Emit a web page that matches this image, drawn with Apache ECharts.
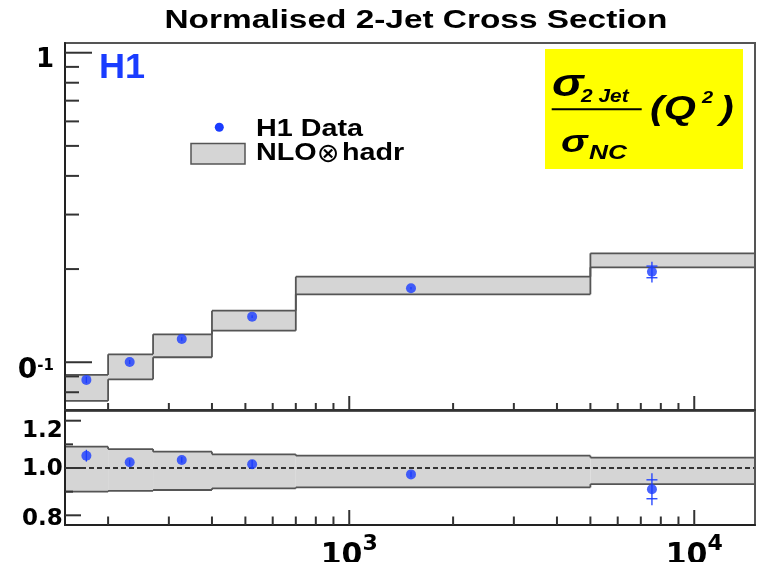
<!DOCTYPE html>
<html><head><meta charset="utf-8">
<script src="https://cdn.jsdelivr.net/npm/echarts@6/dist/echarts.min.js"></script>
<style>html,body{margin:0;padding:0;background:#fff}#c{width:761px;height:562px}</style>
</head><body><div id="c"></div>
<script>
// ---- data ----
const binEdges = [150, 200, 270, 400, 700, 5000, 15000];
const nloHigh = [0.0910, 0.1061, 0.1231, 0.1468, 0.1890, 0.2249];
const nloLow = [0.0750, 0.0881, 0.1038, 0.1265, 0.1658, 0.2026];
const ratioBandHigh = [1.090, 1.080, 1.069, 1.058, 1.052, 1.044];
const ratioBandLow = [0.900, 0.903, 0.907, 0.914, 0.918, 0.932];
const q2Points = [173, 231, 327, 523, 1510, 7540];
const xsecData = [0.0877, 0.1002, 0.1189, 0.1404, 0.1734, 0.1960];
const xsecStat = [0.0010, 0.0010, 0.0010, 0.0010, 0.0010, 0.0085];
const xsecTotal = [0.0020, 0.0015, 0.0015, 0.0015, 0.0015, 0.0150];
const ratioData = [1.052, 1.024, 1.034, 1.016, 0.973, 0.910];
const ratioStat = [0.010, 0.006, 0.006, 0.006, 0.006, 0.040];
const ratioTotal = [0.025, 0.012, 0.012, 0.018, 0.012, 0.068];
const ratioRef = 1.0;
// tick values
const xMajorTicks = [1000, 10000];
const xMinorTicks = [200, 300, 400, 500, 600, 700, 800, 900, 2000, 3000, 4000, 5000, 6000, 7000, 8000, 9000];
const yMajorTicks = [0.1, 1];
const yMinorTicks = [0.08, 0.09, 0.2, 0.3, 0.4, 0.5, 0.6, 0.7, 0.8, 0.9];
const ratioMajorTicks = [0.8, 1.0, 1.2];
const ratioMinorTicks = [0.9, 1.1];
// axis ranges
const xMin = 150, xMax = 15000;
const yMin = 0.0701, yMax = 1.075;
const rMin = 0.759, rMax = 1.241;

const BLUE = '#1a3cff';
const chart = echarts.init(document.getElementById('c'), null, {renderer: 'canvas'});

function bandItems(lo, hi) {
  return lo.map((l, i) => [binEdges[i], binEdges[i + 1], l, hi[i], i > 0 ? lo[i - 1] : l, i > 0 ? hi[i - 1] : hi[i]]);
}
function renderBand(params, api) {
  const x0 = api.value(0), x1 = api.value(1), lo = api.value(2), hi = api.value(3), plo = api.value(4), phi = api.value(5);
  const tl = api.coord([x0, hi]), br = api.coord([x1, lo]);
  const pTop = api.coord([x0, phi]), pBot = api.coord([x0, plo]);
  const ls = {stroke: '#555', lineWidth: 1.8};
  return {type: 'group', children: [
    {type: 'rect', shape: {x: tl[0], y: tl[1], width: br[0] - tl[0], height: br[1] - tl[1]}, style: {fill: '#d5d5d5'}},
    {type: 'line', shape: {x1: tl[0], y1: tl[1], x2: br[0], y2: tl[1]}, style: ls},
    {type: 'line', shape: {x1: tl[0], y1: br[1], x2: br[0], y2: br[1]}, style: ls},
    {type: 'line', shape: {x1: tl[0], y1: pTop[1], x2: tl[0], y2: tl[1]}, style: ls},
    {type: 'line', shape: {x1: tl[0], y1: pBot[1], x2: tl[0], y2: br[1]}, style: ls}
  ]};
}
function errItems(xs, ys, st, tot) { return xs.map((x, i) => [x, ys[i], st[i], tot[i]]); }
function renderErr(params, api) {
  const x = api.value(0), y = api.value(1), s = api.value(2), t = api.value(3);
  const c = api.coord([x, y]);
  const a = api.coord([x, y + t]), b = api.coord([x, y - t]);
  const s1 = api.coord([x, y + s]), s2 = api.coord([x, y - s]);
  const st = {stroke: BLUE, lineWidth: 1.3};
  const kids = [{type: 'line', shape: {x1: a[0], y1: a[1], x2: b[0], y2: b[1]}, style: st}];
  // stat ticks only where they stick out of the marker
  if (Math.abs(s1[1] - c[1]) > 5.5) {
    kids.push({type: 'line', shape: {x1: s1[0] - 5.5, y1: s1[1], x2: s1[0] + 5.5, y2: s1[1]}, style: st});
    kids.push({type: 'line', shape: {x1: s2[0] - 5.5, y1: s2[1], x2: s2[0] + 5.5, y2: s2[1]}, style: st});
  }
  return {type: 'group', children: kids};
}
function tickItems(xMinorLen, xMajorLen, yMinorLen, yMajorLen, yMinVal, yMinorVals, yMajorVals) {
  const out = [];
  xMinorTicks.forEach(v => out.push([v, yMinVal, 0, -xMinorLen]));
  xMajorTicks.forEach(v => out.push([v, yMinVal, 0, -xMajorLen]));
  yMinorVals.forEach(v => out.push([xMin, v, yMinorLen, 0]));
  yMajorVals.forEach(v => out.push([xMin, v, yMajorLen, 0]));
  return out;
}
function renderTick(params, api) {
  const p = api.coord([api.value(0), api.value(1)]);
  const dx = api.value(2), dy = api.value(3);
  return {type: 'line', shape: {x1: p[0], y1: p[1], x2: p[0] + dx, y2: p[1] + dy}, style: {stroke: '#333', lineWidth: 2}};
}
const near = (a, b) => Math.abs(a - b) < 1e-6 * Math.max(1, Math.abs(b));
const labelFont = {fontFamily: '"DejaVu Sans", sans-serif', fontWeight: 'bold', color: '#000'};

function gText(text, x, y, size, opt) {
  opt = opt || {};
  const family = opt.family || '"Liberation Sans", Arial, sans-serif';
  const weight = opt.normal ? 'normal ' : 'bold ';
  return {type: 'text', x: x, y: y, scaleX: opt.sx == null ? 1.25 : opt.sx, z: 100,
    style: {text: text, fill: opt.color || '#000', textAlign: 'left', textVerticalAlign: 'middle',
      font: (opt.italic ? 'italic ' : '') + weight + size + 'px ' + family}};
}

const option = {
  animation: false,
  backgroundColor: '#fff',
  grid: [
    {left: 65, top: 43, width: 690, height: 367, show: true, borderColor: '#555', borderWidth: 2, z: 10, containLabel: false, outerBoundsMode: 'none'},
    {left: 65, top: 411, width: 690, height: 114, show: true, borderColor: '#555', borderWidth: 2, z: 10, containLabel: false, outerBoundsMode: 'none'}
  ],
  xAxis: [
    {type: 'log', gridIndex: 0, min: xMin, max: xMax, z: 10,
      axisLine: {show: true, lineStyle: {color: '#333', width: 2}}, axisTick: {show: false}, splitLine: {show: false}, axisLabel: {show: false}},
    {type: 'log', gridIndex: 1, min: xMin, max: xMax, z: 10,
      axisLine: {show: true, lineStyle: {color: '#222', width: 2}}, axisTick: {show: false}, splitLine: {show: false},
      axisLabel: {margin: 16,
        formatter: v => { const e = Math.log10(v); if (Math.abs(e - Math.round(e)) < 1e-6 && v > 500 && v < 20000) return '{b|10}{s|' + Math.round(e) + '}'; return ''; },
        rich: {b: Object.assign({fontSize: 30, lineHeight: 30, verticalAlign: 'bottom'}, labelFont),
               s: Object.assign({fontSize: 22, lineHeight: 22, verticalAlign: 'bottom', padding: [0, 0, 16, 0]}, labelFont)}}}
  ],
  yAxis: [
    {type: 'log', gridIndex: 0, min: yMin, max: yMax, z: 10,
      axisLine: {show: true, lineStyle: {color: '#222', width: 2}}, axisTick: {show: false}, splitLine: {show: false},
      axisLabel: {margin: 11,
        formatter: v => near(v, 1) ? '{b|1}' : (near(v, 0.1) ? '{z|0}{s|-1}' : ''),
        rich: {b: Object.assign({fontSize: 26, lineHeight: 30, padding: [15, 0, 0, 0]}, labelFont),
               z: Object.assign({fontSize: 28, lineHeight: 45, verticalAlign: 'bottom'}, labelFont),
               s: Object.assign({fontSize: 15, lineHeight: 15, verticalAlign: 'bottom', padding: [0, 0, 11, 0]}, labelFont)}}},
    {type: 'value', gridIndex: 1, min: rMin, max: rMax, z: 10,
      axisLine: {show: true, lineStyle: {color: '#222', width: 2}}, axisTick: {show: false}, splitLine: {show: false},
      axisLabel: {margin: 43, align: 'left',
        formatter: v => near(v, 1.2) ? '{h|1.2}' : (near(v, 1.0) ? '{n|1.0}' : (near(v, 0.8) ? '{l|0.8}' : '')),
        rich: {h: Object.assign({fontSize: 23, padding: [20, 0, 0, 0]}, labelFont),
               n: Object.assign({fontSize: 23, padding: [2, 0, 0, 0]}, labelFont),
               l: Object.assign({fontSize: 23, padding: [7, 0, 0, 0]}, labelFont)}}}
  ],
  series: [
    {type: 'custom', xAxisIndex: 0, yAxisIndex: 0, z: 1, renderItem: renderBand, encode: {x: [0, 1], y: [2, 3]},
      data: bandItems(nloLow, nloHigh)},
    {type: 'custom', xAxisIndex: 1, yAxisIndex: 1, z: 1, renderItem: renderBand, encode: {x: [0, 1], y: [2, 3]},
      data: bandItems(ratioBandLow, ratioBandHigh)},
    {type: 'line', xAxisIndex: 1, yAxisIndex: 1, z: 2, symbol: 'none', silent: true,
      lineStyle: {color: '#000', width: 1.5, type: [5, 3]}, data: [[xMin, ratioRef], [xMax, ratioRef]]},
    {type: 'custom', xAxisIndex: 0, yAxisIndex: 0, z: 3, renderItem: renderErr, encode: {x: 0, y: 1},
      data: errItems(q2Points, xsecData, xsecStat, xsecTotal)},
    {type: 'custom', xAxisIndex: 1, yAxisIndex: 1, z: 3, renderItem: renderErr, encode: {x: 0, y: 1},
      data: errItems(q2Points, ratioData, ratioStat, ratioTotal)},
    {type: 'scatter', xAxisIndex: 0, yAxisIndex: 0, z: 4, symbol: 'circle', symbolSize: 10, itemStyle: {color: BLUE},
      data: q2Points.map((x, i) => [x, xsecData[i]])},
    {type: 'scatter', xAxisIndex: 1, yAxisIndex: 1, z: 4, symbol: 'circle', symbolSize: 10, itemStyle: {color: BLUE},
      data: q2Points.map((x, i) => [x, ratioData[i]])},
    {type: 'custom', xAxisIndex: 0, yAxisIndex: 0, z: 20, renderItem: renderTick, encode: {x: 0, y: 1},
      data: tickItems(7, 14, 14, 27, yMin, yMinorTicks, yMajorTicks)},
    {type: 'custom', xAxisIndex: 1, yAxisIndex: 1, z: 20, renderItem: renderTick, encode: {x: 0, y: 1},
      data: tickItems(8.5, 15, 8, 16, rMin, ratioMinorTicks, ratioMajorTicks)}
  ],
  graphic: [
    gText('Normalised 2-Jet Cross Section', 164.5, 20.5, 26.5, {sx: 1.26}),
    gText('H1', 99, 68.5, 35, {sx: 1.03, color: BLUE}),
    {type: 'circle', shape: {cx: 219.3, cy: 127.3, r: 4.5}, style: {fill: BLUE}, z: 100},
    {type: 'rect', shape: {x: 191, y: 143.5, width: 54, height: 20.5}, style: {fill: '#d5d5d5', stroke: '#555', lineWidth: 1.5}, z: 100},
    gText('H1 Data', 256, 130, 23),
    gText('NLO', 256, 154, 23),
    gText('\u2297', 317, 155, 27, {sx: 1, normal: true, family: '"DejaVu Sans", sans-serif'}),
    gText('hadr', 342, 154, 23),
    {type: 'rect', shape: {x: 545, y: 49, width: 198, height: 120}, style: {fill: '#ffff00'}, z: 90},
    gText('\u03c3', 552, 86, 38, {italic: true}),
    gText('2 Jet', 581, 97, 19, {italic: true, sx: 1.1}),
    {type: 'line', shape: {x1: 551.7, y1: 109.3, x2: 641.7, y2: 109.3}, style: {stroke: '#000', lineWidth: 2}, z: 100},
    gText('\u03c3', 561, 143, 32, {italic: true}),
    gText('NC', 589, 153.5, 21, {italic: true}),
    gText('(Q', 650, 110, 33, {italic: true}),
    gText('2', 702, 99, 16, {italic: true}),
    gText(')', 720, 110, 33, {italic: true})
  ]
};
chart.setOption(option);
</script></body></html>
